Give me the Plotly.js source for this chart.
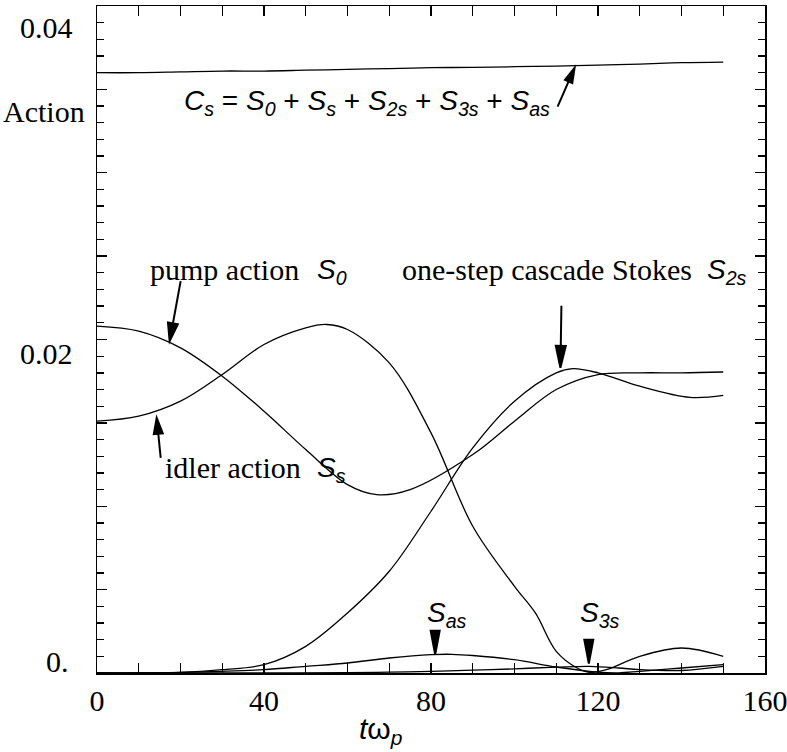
<!DOCTYPE html>
<html><head><meta charset="utf-8">
<script src="https://cdn.plot.ly/plotly-3.0.1.min.js"></script>
<style>html,body{margin:0;padding:0;background:#fff}#chart{width:787px;height:752px}</style>
</head><body><div id="chart"></div>
<script>
// ---- data ----
const tConserved = [0,10,20,30,40,50,60,70,80,90,100,110,120,130,140,150];
const conserved  = [0.0360,0.0360,0.03605,0.0361,0.0361,0.03615,0.0362,0.03625,0.0363,0.03632,0.03636,0.0364,0.03646,0.03652,0.0366,0.03664];

const tPump = [0,10,20,30,40,50,60,67,75,90,100,110,120,130,140,150];
const pump  = [0.0208,0.0205,0.0195,0.0178,0.0157,0.0134,0.0113,0.0107,0.0110,0.0131,0.0151,0.0170,0.0179,0.0180,0.0180,0.01805];

const tIdler = [0,10,20,30,40,50,55,60,70,80,90,100,105,110,115,118,122,130,140,150];
const idler  = [0.0151,0.0154,0.0163,0.0179,0.0197,0.0207,0.0209,0.0206,0.0186,0.0144,0.0088,0.0052,0.0036,0.0013,0.0003,0.00004,0.0002,0.0010,0.0015,0.0010];

const tStokes2 = [0,10,20,30,40,50,60,70,80,90,100,110,114,120,130,142,150];
const stokes2  = [0,0,0.00003,0.0002,0.0005,0.0016,0.0036,0.0061,0.0097,0.0135,0.0163,0.0180,0.01825,0.0180,0.0172,0.01653,0.01665];

const tAnti = [0,10,20,30,40,50,60,70,80,85,90,100,110,120,125,130,140,150];
const antiStokes = [0,0,0.00004,0.0001,0.0002,0.0004,0.0006,0.0009,0.0011,0.00112,0.00105,0.0008,0.00036,0.00005,0.00001,0.0001,0.0003,0.0005];

const tStokes3 = [0,20,40,60,70,80,90,100,110,118,125,130,140,150];
const stokes3  = [0,0,0,0.00002,0.00005,0.0001,0.00017,0.00025,0.00035,0.0004,0.0003,0.0002,0.00015,0.0004];

const xTickVals = [0,40,80,120,160];
const xTickText = ["0","40","80","120","160"];
const yTickVals = [0,0.02,0.04];
const yTickText = ["0.","0.02","0.04"];

// ---- styling ----
const SERIF = "Liberation Serif, Times New Roman, serif";
const SANS = "Liberation Sans, Arial, sans-serif";
const lineStyle = {color:"#000", width:1.3, shape:"spline", smoothing:1};

function curve(x, y){ return {x:x, y:y, type:"scatter", mode:"lines", line:lineStyle, hoverinfo:"skip", showlegend:false}; }

const traces = [
  curve(tConserved, conserved),
  curve(tPump, pump),
  curve(tIdler, idler),
  curve(tStokes2, stokes2),
  curve(tAnti, antiStokes),
  curve(tStokes3, stokes3)
];

// y tick labels were hand-placed in the original, slightly off the tick marks
const yLabelShift = [[-26, 12], [-22, -14], [-22, -21]];
const annotations = yTickVals.map((v,i)=>({
  x:0, xref:"paper", y:v, yref:"y", text:yTickText[i], showarrow:false,
  xanchor:"right", yanchor:"middle", xshift:yLabelShift[i][0], yshift:yLabelShift[i][1],
  font:{family:SERIF, size:30, color:"#000"}
}));

function txt(x, y, text, family, size, xanchor){
  return {x:x, y:y, xref:"x", yref:"y", text:text, showarrow:false, xanchor:xanchor||"left", yanchor:"middle",
          font:{family:family, size:size, color:"#000"}};
}

// arrow = pixel-sized path anchored at its tip (data coords); dx,dy = tail offset in screen px
function arrowShape(tipX, tipY, dx, dy, headLen, headW){
  const tx = dx, ty = -dy;               // shape pixel coords: y positive upward
  const L = Math.hypot(tx, ty);
  const ux = tx / L, uy = ty / L;         // unit vector tip -> tail
  const bx = ux * headLen, by = uy * headLen;
  const nx = -uy, ny = ux;
  const f = v => v.toFixed(2);
  const path = "M" + f(tx) + "," + f(ty) + " L" + f(bx) + "," + f(by) +
               " M0,0 L" + f(bx + nx*headW/2) + "," + f(by + ny*headW/2) +
               " L" + f(bx - nx*headW/2) + "," + f(by - ny*headW/2) + " Z";
  return {type:"path", xref:"x", yref:"y", xsizemode:"pixel", ysizemode:"pixel",
          xanchor:tipX, yanchor:tipY, path:path, line:{color:"#000", width:2}, fillcolor:"#000", layer:"above"};
}

const shapes = [
  arrowShape(114.4, 0.0363, -17, 39, 15, 8),
  arrowShape(17.4, 0.0199, 11, -60, 18, 10),
  arrowShape(14.3, 0.0153, 4, 40, 16, 9),
  arrowShape(111.0, 0.0183, 1, -62, 22, 10),
  arrowShape(81.0, 0.0011, 0, -25, 24, 9),
  arrowShape(117.8, 0.00056, 0, -25, 24, 9)
];

annotations.push(
  {x:0, xref:"paper", y:0.0337, yref:"y", text:"Action", showarrow:false, xanchor:"right", yanchor:"middle",
   xshift:-10, font:{family:SERIF, size:30, color:"#000"}},
  {x:68, xref:"x", y:0, yref:"paper", yshift:-57, text:"<i>t</i>ω<sub><i>p</i></sub>", showarrow:false,
   xanchor:"center", yanchor:"middle", font:{family:SANS, size:30, color:"#000"}},
  txt(20.4, 0.0342, "<i>C<sub>s</sub></i> = <i>S<sub>0</sub></i> + <i>S<sub>s</sub></i> + <i>S<sub>2s</sub></i> + <i>S<sub>3s</sub></i> + <i>S<sub>as</sub></i>", SANS, 28),
  txt(12.2, 0.0242, "pump action", SERIF, 30),
  txt(52.3, 0.0241, "<i>S<sub>0</sub></i>", SANS, 28),
  txt(15.9, 0.0123, "idler action", SERIF, 30),
  txt(52.3, 0.0122, "<i>S<sub>s</sub></i>", SANS, 28),
  txt(72.6, 0.0242, "one-step cascade Stokes", SERIF, 30),
  txt(145.6, 0.0241, "<i>S<sub>2s</sub></i>", SANS, 28),
  txt(78.5, 0.0035, "<i>S<sub>as</sub></i>", SANS, 28),
  txt(115.2, 0.0035, "<i>S<sub>3s</sub></i>", SANS, 28)
);

const layout = {
  width:787, height:752,
  margin:{l:97, r:22, t:6, b:79, pad:0},
  paper_bgcolor:"#fff", plot_bgcolor:"#fff",
  showlegend:false,
  xaxis:{range:[0,160], showgrid:false, zeroline:false, showline:true, linecolor:"#000", linewidth:1.5, mirror:"allticks",
         ticks:"inside", ticklen:10, tickwidth:1.3, tickcolor:"#000", ticklabeloverflow:"allow",
         tickvals:xTickVals, ticktext:xTickText, tickfont:{family:SERIF, size:30, color:"#000"},
         minor:{dtick:10, tick0:0, ticks:"inside", ticklen:10, tickwidth:1.3, tickcolor:"#000", showgrid:false}},
  yaxis:{range:[0,0.04], showgrid:false, zeroline:false, showline:true, linecolor:"#000", linewidth:1.5, mirror:"allticks",
         ticks:"inside", ticklen:10, tickwidth:1.3, tickcolor:"#000", dtick:0.005, tick0:0, showticklabels:false,
         minor:{dtick:0.001, tick0:0, ticks:"inside", ticklen:7, tickwidth:1.3, tickcolor:"#000", showgrid:false}},
  annotations:annotations,
  shapes:shapes
};

Plotly.newPlot("chart", traces, layout, {staticPlot:true, displayModeBar:false});
</script>
</body></html>
